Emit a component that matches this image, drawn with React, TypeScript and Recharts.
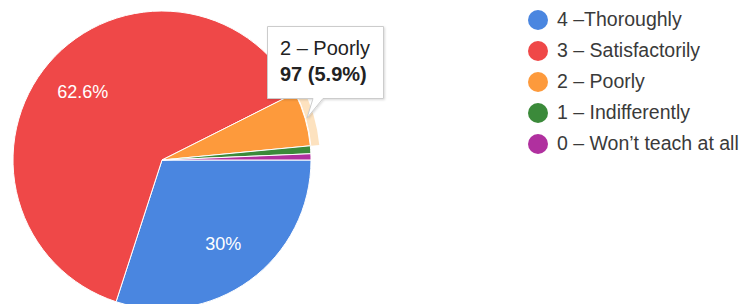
import React from 'react';
import { PieChart, Pie, Cell, Legend } from 'recharts';

const categories = [
  '4 –Thoroughly',
  '3 – Satisfactorily',
  '2 – Poorly',
  '1 – Indifferently',
  '0 – Won’t teach at all',
];
const responses = [493, 1029, 97, 14, 11];
const colors = ['#4a86e0', '#ef4848', '#fd9a3c', '#3b8a3a', '#b0309f'];

const HOVER_INDEX = 2;
const FONT = 'Arial, "Liberation Sans", sans-serif';
const RAD = Math.PI / 180;

const data = categories.map((name, i) => ({ name, value: responses[i] }));
const total = responses.reduce((a, b) => a + b, 0);

function fmtPct(p: number) {
  const v = Math.round(p * 1000) / 10;
  return `${v % 1 === 0 ? v.toFixed(0) : v.toFixed(1)}%`;
}

function SliceLabel(props: any) {
  const { cx, cy, midAngle, outerRadius, percent } = props;
  if (percent < 0.1) return null;
  const r = outerRadius * 0.7;
  const x = cx + r * Math.cos(-midAngle * RAD);
  const y = cy + r * Math.sin(-midAngle * RAD);
  return (
    <text
      x={x}
      y={y}
      fill="#ffffff"
      fontSize={18}
      fontFamily={FONT}
      textAnchor="middle"
      dominantBaseline="central"
    >
      {fmtPct(percent)}
    </text>
  );
}

function LegendList() {
  return (
    <div style={{ fontFamily: FONT }}>
      {categories.map((name, i) => (
        <div key={name} style={{ display: 'flex', alignItems: 'center', height: 31 }}>
          <span
            style={{
              width: 20,
              height: 20,
              borderRadius: '50%',
              background: colors[i],
              display: 'inline-block',
              marginRight: 9,
            }}
          />
          <span style={{ fontSize: 19.5, color: '#3a3a3a', whiteSpace: 'nowrap' }}>{name}</span>
        </div>
      ))}
    </div>
  );
}

function HoverTip() {
  const i = HOVER_INDEX;
  return (
    <svg
      width={745}
      height={304}
      style={{ position: 'absolute', left: 0, top: 0, pointerEvents: 'none' }}
    >
      <defs>
        <filter id="tipShadow" x="-10%" y="-10%" width="120%" height="130%">
          <feDropShadow dx="1" dy="1" stdDeviation="1.2" floodColor="#000" floodOpacity="0.15" />
        </filter>
      </defs>
      <g filter="url(#tipShadow)">
        <path
          d="M267.5 26.5 H383.5 V98.5 H323 L307 118 L313 98.5 H267.5 Z"
          fill="#ffffff"
          stroke="#cccccc"
          strokeWidth={1}
        />
      </g>
      <text x={280} y={55} fontFamily={FONT} fontSize={20} fill="#222222">
        {categories[i]}
      </text>
      <text x={280} y={81} fontFamily={FONT} fontSize={20} fontWeight="bold" fill="#222222">
        {`${responses[i]} (${fmtPct(responses[i] / total)})`}
      </text>
    </svg>
  );
}

export default function App() {
  return (
    <div style={{ position: 'absolute', left: 0, top: 0, width: 745, height: 304, background: '#fff' }}>
      <PieChart width={745} height={304} margin={{ top: 0, right: 0, bottom: 0, left: 0 }}>
        <Pie
          data={data}
          dataKey="value"
          cx={162}
          cy={160}
          innerRadius={150}
          outerRadius={158}
          startAngle={0}
          endAngle={-360}
          stroke="none"
          isAnimationActive={false}
          legendType="none"
        >
          {data.map((d, i) => (
            <Cell key={d.name} fill={i === HOVER_INDEX ? '#fde2bf' : 'none'} />
          ))}
        </Pie>
        <Pie
          data={data}
          dataKey="value"
          cx={162}
          cy={160}
          outerRadius={149}
          startAngle={0}
          endAngle={-360}
          stroke="#ffffff"
          strokeWidth={1}
          label={SliceLabel}
          labelLine={false}
          isAnimationActive={false}
        >
          {data.map((d, i) => (
            <Cell key={d.name} fill={colors[i]} />
          ))}
        </Pie>
        <Legend
          layout="vertical"
          align="right"
          verticalAlign="top"
          content={() => <LegendList />}
          wrapperStyle={{ position: 'absolute', left: 528, top: 4, width: 217 }}
        />
      </PieChart>
      <HoverTip />
    </div>
  );
}
